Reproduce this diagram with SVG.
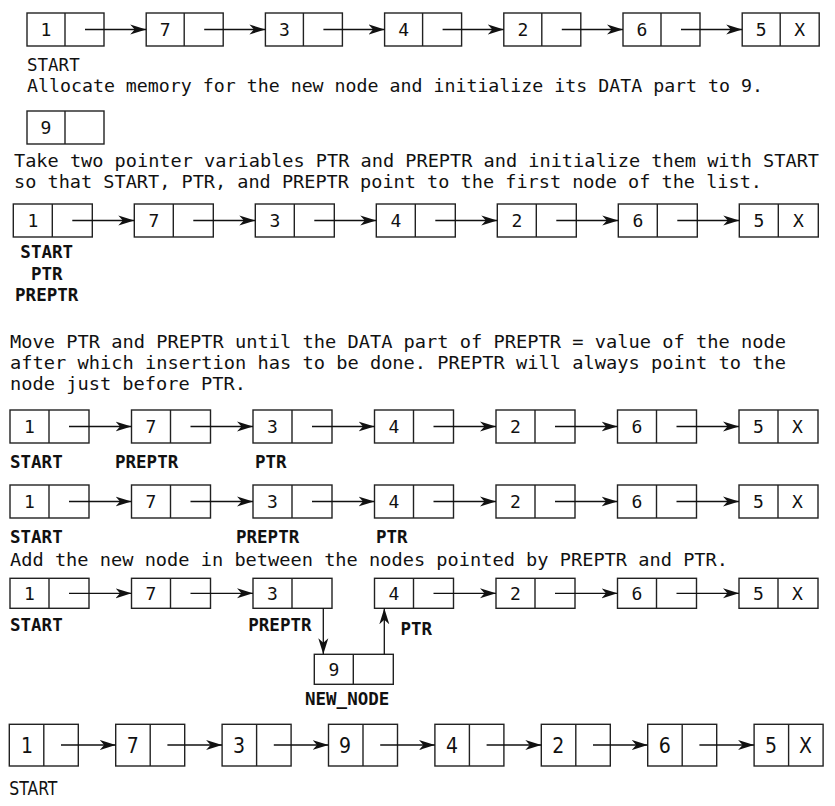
<svg xmlns="http://www.w3.org/2000/svg" width="835" height="806" viewBox="0 0 835 806">
<style>
rect{fill:#fff;stroke:#222;stroke-width:1.4}
.d{stroke:#222;stroke-width:1.4}
.a{stroke:#111;stroke-width:1.3;fill:none;marker-end:url(#ah)}
text{font-family:"DejaVu Sans Mono","Liberation Mono",monospace;fill:#111}
.n{font-size:18px;text-anchor:middle}
.p{font-size:17.5px}
.l{font-size:17.5px}
.b{font-size:17.5px;font-weight:bold}
.c{font-family:"DejaVu Sans Condensed","DejaVu Sans",sans-serif;font-size:21px;text-anchor:middle}
.cl{font-family:"DejaVu Sans Condensed","DejaVu Sans",sans-serif;font-size:20px}
</style>
<defs>
<marker id="ah" markerUnits="userSpaceOnUse" markerWidth="17" markerHeight="11" refX="16" refY="5.5" orient="auto">
<path d="M0,0.5 L16,5.5 L0,10.5 L4.5,5.5 Z" fill="#111"/>
</marker>
</defs>

<!-- Row 1 -->
<g id="r1n1"><rect x="27" y="13" width="77" height="33"/><line class="d" x1="65" y1="13" x2="65" y2="46"/><text class="n" x="46" y="36">1</text></g>
<g id="r1n2"><rect x="146.2" y="13" width="77" height="33"/><line class="d" x1="184.2" y1="13" x2="184.2" y2="46"/><text class="n" x="165.2" y="36">7</text></g>
<g id="r1n3"><rect x="265.4" y="13" width="77" height="33"/><line class="d" x1="303.4" y1="13" x2="303.4" y2="46"/><text class="n" x="284.4" y="36">3</text></g>
<g id="r1n4"><rect x="384.6" y="13" width="77" height="33"/><line class="d" x1="422.6" y1="13" x2="422.6" y2="46"/><text class="n" x="403.6" y="36">4</text></g>
<g id="r1n5"><rect x="503.8" y="13" width="77" height="33"/><line class="d" x1="541.8" y1="13" x2="541.8" y2="46"/><text class="n" x="522.8" y="36">2</text></g>
<g id="r1n6"><rect x="623" y="13" width="77" height="33"/><line class="d" x1="661" y1="13" x2="661" y2="46"/><text class="n" x="642" y="36">6</text></g>
<g id="r1n7"><rect x="742.2" y="13" width="77" height="33"/><line class="d" x1="780.2" y1="13" x2="780.2" y2="46"/><text class="n" x="761.2" y="36">5</text><text class="n" x="799.7" y="36">X</text></g>
<text class="l" x="27" y="71">START</text>
<text class="p" x="27" y="91.5" textLength="736" lengthAdjust="spacingAndGlyphs">Allocate memory for the new node and initialize its DATA part to 9.</text>

<g id="newnode1"><rect x="27" y="111" width="77" height="33"/><line class="d" x1="65" y1="111" x2="65" y2="144"/><text class="n" x="46" y="134">9</text></g>

<text class="p" x="14" y="166.5" textLength="805" lengthAdjust="spacingAndGlyphs">Take two pointer variables PTR and PREPTR and initialize them with START</text>
<text class="p" x="14" y="187.5" textLength="748" lengthAdjust="spacingAndGlyphs">so that START, PTR, and PREPTR point to the first node of the list.</text>

<!-- Row 3 -->
<g id="r3n1"><rect x="13.3" y="204" width="79" height="33"/><line class="d" x1="52.3" y1="204" x2="52.3" y2="237"/><text class="n" x="32.8" y="227">1</text></g>
<g id="r3n2"><rect x="134.3" y="204" width="79" height="33"/><line class="d" x1="173.3" y1="204" x2="173.3" y2="237"/><text class="n" x="153.8" y="227">7</text></g>
<g id="r3n3"><rect x="255.3" y="204" width="79" height="33"/><line class="d" x1="294.3" y1="204" x2="294.3" y2="237"/><text class="n" x="274.8" y="227">3</text></g>
<g id="r3n4"><rect x="376.3" y="204" width="79" height="33"/><line class="d" x1="415.3" y1="204" x2="415.3" y2="237"/><text class="n" x="395.8" y="227">4</text></g>
<g id="r3n5"><rect x="497.3" y="204" width="79" height="33"/><line class="d" x1="536.3" y1="204" x2="536.3" y2="237"/><text class="n" x="516.8" y="227">2</text></g>
<g id="r3n6"><rect x="618.3" y="204" width="79" height="33"/><line class="d" x1="657.3" y1="204" x2="657.3" y2="237"/><text class="n" x="637.8" y="227">6</text></g>
<g id="r3n7"><rect x="739.3" y="204" width="79" height="33"/><line class="d" x1="778.3" y1="204" x2="778.3" y2="237"/><text class="n" x="758.8" y="227">5</text><text class="n" x="798.3" y="227">X</text></g>
<text class="b" x="46.7" y="258" text-anchor="middle">START</text>
<text class="b" x="46.7" y="280" text-anchor="middle">PTR</text>
<text class="b" x="46.7" y="301" text-anchor="middle">PREPTR</text>

<text class="p" x="10" y="347.5" textLength="776" lengthAdjust="spacingAndGlyphs">Move PTR and PREPTR until the DATA part of PREPTR = value of the node</text>
<text class="p" x="10" y="369" textLength="776" lengthAdjust="spacingAndGlyphs">after which insertion has to be done. PREPTR will always point to the</text>
<text class="p" x="10" y="390" textLength="236" lengthAdjust="spacingAndGlyphs">node just before PTR.</text>

<!-- Row 4 -->
<g id="r4n1"><rect x="10" y="410" width="79" height="33"/><line class="d" x1="49" y1="410" x2="49" y2="443"/><text class="n" x="29.5" y="433">1</text></g>
<g id="r4n2"><rect x="131.5" y="410" width="79" height="33"/><line class="d" x1="170.5" y1="410" x2="170.5" y2="443"/><text class="n" x="151" y="433">7</text></g>
<g id="r4n3"><rect x="253" y="410" width="79" height="33"/><line class="d" x1="292" y1="410" x2="292" y2="443"/><text class="n" x="272.5" y="433">3</text></g>
<g id="r4n4"><rect x="374.5" y="410" width="79" height="33"/><line class="d" x1="413.5" y1="410" x2="413.5" y2="443"/><text class="n" x="394" y="433">4</text></g>
<g id="r4n5"><rect x="496" y="410" width="79" height="33"/><line class="d" x1="535" y1="410" x2="535" y2="443"/><text class="n" x="515.5" y="433">2</text></g>
<g id="r4n6"><rect x="617.5" y="410" width="79" height="33"/><line class="d" x1="656.5" y1="410" x2="656.5" y2="443"/><text class="n" x="637" y="433">6</text></g>
<g id="r4n7"><rect x="739" y="410" width="79" height="33"/><line class="d" x1="778" y1="410" x2="778" y2="443"/><text class="n" x="758.5" y="433">5</text><text class="n" x="797.5" y="433">X</text></g>
<text class="b" x="10" y="467.5">START</text>
<text class="b" x="115" y="467.5">PREPTR</text>
<text class="b" x="255" y="467.5">PTR</text>

<!-- Row 5 -->
<g id="r5n1"><rect x="10" y="485" width="79" height="33"/><line class="d" x1="49" y1="485" x2="49" y2="518"/><text class="n" x="29.5" y="508">1</text></g>
<g id="r5n2"><rect x="131.5" y="485" width="79" height="33"/><line class="d" x1="170.5" y1="485" x2="170.5" y2="518"/><text class="n" x="151" y="508">7</text></g>
<g id="r5n3"><rect x="253" y="485" width="79" height="33"/><line class="d" x1="292" y1="485" x2="292" y2="518"/><text class="n" x="272.5" y="508">3</text></g>
<g id="r5n4"><rect x="374.5" y="485" width="79" height="33"/><line class="d" x1="413.5" y1="485" x2="413.5" y2="518"/><text class="n" x="394" y="508">4</text></g>
<g id="r5n5"><rect x="496" y="485" width="79" height="33"/><line class="d" x1="535" y1="485" x2="535" y2="518"/><text class="n" x="515.5" y="508">2</text></g>
<g id="r5n6"><rect x="617.5" y="485" width="79" height="33"/><line class="d" x1="656.5" y1="485" x2="656.5" y2="518"/><text class="n" x="637" y="508">6</text></g>
<g id="r5n7"><rect x="739" y="485" width="79" height="33"/><line class="d" x1="778" y1="485" x2="778" y2="518"/><text class="n" x="758.5" y="508">5</text><text class="n" x="797.5" y="508">X</text></g>
<text class="b" x="10" y="542.5">START</text>
<text class="b" x="236" y="542.5">PREPTR</text>
<text class="b" x="376" y="542.5">PTR</text>

<text class="p" x="10" y="565.5" textLength="718" lengthAdjust="spacingAndGlyphs">Add the new node in between the nodes pointed by PREPTR and PTR.</text>

<!-- Row 6 -->
<g id="r6n1"><rect x="10" y="578.3" width="79" height="30"/><line class="d" x1="49" y1="578.3" x2="49" y2="608.3"/><text class="n" x="29.5" y="600">1</text></g>
<g id="r6n2"><rect x="131.5" y="578.3" width="79" height="30"/><line class="d" x1="170.5" y1="578.3" x2="170.5" y2="608.3"/><text class="n" x="151" y="600">7</text></g>
<g id="r6n3"><rect x="253" y="578.3" width="79" height="30"/><line class="d" x1="292" y1="578.3" x2="292" y2="608.3"/><text class="n" x="272.5" y="600">3</text></g>
<g id="r6n4"><rect x="374.5" y="578.3" width="79" height="30"/><line class="d" x1="413.5" y1="578.3" x2="413.5" y2="608.3"/><text class="n" x="394" y="600">4</text></g>
<g id="r6n5"><rect x="496" y="578.3" width="79" height="30"/><line class="d" x1="535" y1="578.3" x2="535" y2="608.3"/><text class="n" x="515.5" y="600">2</text></g>
<g id="r6n6"><rect x="617.5" y="578.3" width="79" height="30"/><line class="d" x1="656.5" y1="578.3" x2="656.5" y2="608.3"/><text class="n" x="637" y="600">6</text></g>
<g id="r6n7"><rect x="739" y="578.3" width="79" height="30"/><line class="d" x1="778" y1="578.3" x2="778" y2="608.3"/><text class="n" x="758.5" y="600">5</text><text class="n" x="797.5" y="600">X</text></g>
<g id="r6new"><rect x="314.3" y="654.3" width="79" height="30"/><line class="d" x1="353.3" y1="654.3" x2="353.3" y2="684.3"/><text class="n" x="333.8" y="676">9</text></g>
<text class="b" x="10" y="631">START</text>
<text class="b" x="248.3" y="631">PREPTR</text>
<text class="b" x="400.5" y="635">PTR</text>
<text class="b" x="305" y="705">NEW_NODE</text>

<!-- Row 7 -->
<g id="r7n1"><rect x="9.3" y="724.3" width="69" height="41.7"/><line class="d" x1="43.8" y1="724.3" x2="43.8" y2="766"/><text class="c" x="27" y="752.5">1</text></g>
<g id="r7n2"><rect x="115.7" y="724.3" width="69" height="41.7"/><line class="d" x1="150.2" y1="724.3" x2="150.2" y2="766"/><text class="c" x="132.7" y="752.5">7</text></g>
<g id="r7n3"><rect x="222.1" y="724.3" width="69" height="41.7"/><line class="d" x1="256.6" y1="724.3" x2="256.6" y2="766"/><text class="c" x="239.1" y="752.5">3</text></g>
<g id="r7n4"><rect x="328.5" y="724.3" width="69" height="41.7"/><line class="d" x1="363" y1="724.3" x2="363" y2="766"/><text class="c" x="345" y="752.5">9</text></g>
<g id="r7n5"><rect x="434.9" y="724.3" width="69" height="41.7"/><line class="d" x1="469.4" y1="724.3" x2="469.4" y2="766"/><text class="c" x="451.9" y="752.5">4</text></g>
<g id="r7n6"><rect x="541.3" y="724.3" width="69" height="41.7"/><line class="d" x1="575.8" y1="724.3" x2="575.8" y2="766"/><text class="c" x="558.3" y="752.5">2</text></g>
<g id="r7n7"><rect x="647.7" y="724.3" width="69" height="41.7"/><line class="d" x1="682.2" y1="724.3" x2="682.2" y2="766"/><text class="c" x="664.7" y="752.5">6</text></g>
<g id="r7n8"><rect x="754.1" y="724.3" width="69" height="41.7"/><line class="d" x1="788.6" y1="724.3" x2="788.6" y2="766"/><text class="c" x="771.1" y="752.5">5</text><text class="c" x="805.6" y="752.5">X</text></g>
<text class="cl" x="9.3" y="795" textLength="48" lengthAdjust="spacingAndGlyphs">START</text>

<!-- Connectors -->
<g id="connectors">
<line class="a" x1="85" y1="29.5" x2="146.2" y2="29.5"/>
<line class="a" x1="204.2" y1="29.5" x2="265.4" y2="29.5"/>
<line class="a" x1="323.4" y1="29.5" x2="384.6" y2="29.5"/>
<line class="a" x1="442.6" y1="29.5" x2="503.8" y2="29.5"/>
<line class="a" x1="561.8" y1="29.5" x2="623" y2="29.5"/>
<line class="a" x1="681" y1="29.5" x2="742.2" y2="29.5"/>

<line class="a" x1="72.3" y1="220.5" x2="134.3" y2="220.5"/>
<line class="a" x1="193.3" y1="220.5" x2="255.3" y2="220.5"/>
<line class="a" x1="314.3" y1="220.5" x2="376.3" y2="220.5"/>
<line class="a" x1="435.3" y1="220.5" x2="497.3" y2="220.5"/>
<line class="a" x1="556.3" y1="220.5" x2="618.3" y2="220.5"/>
<line class="a" x1="677.3" y1="220.5" x2="739.3" y2="220.5"/>

<line class="a" x1="69" y1="426.5" x2="131.5" y2="426.5"/>
<line class="a" x1="190.5" y1="426.5" x2="253" y2="426.5"/>
<line class="a" x1="312" y1="426.5" x2="374.5" y2="426.5"/>
<line class="a" x1="433.5" y1="426.5" x2="496" y2="426.5"/>
<line class="a" x1="555" y1="426.5" x2="617.5" y2="426.5"/>
<line class="a" x1="676.5" y1="426.5" x2="739" y2="426.5"/>

<line class="a" x1="69" y1="501.5" x2="131.5" y2="501.5"/>
<line class="a" x1="190.5" y1="501.5" x2="253" y2="501.5"/>
<line class="a" x1="312" y1="501.5" x2="374.5" y2="501.5"/>
<line class="a" x1="433.5" y1="501.5" x2="496" y2="501.5"/>
<line class="a" x1="555" y1="501.5" x2="617.5" y2="501.5"/>
<line class="a" x1="676.5" y1="501.5" x2="739" y2="501.5"/>

<line class="a" x1="69" y1="593.3" x2="131.5" y2="593.3"/>
<line class="a" x1="190.5" y1="593.3" x2="253" y2="593.3"/>
<line class="a" x1="433.5" y1="593.3" x2="496" y2="593.3"/>
<line class="a" x1="555" y1="593.3" x2="617.5" y2="593.3"/>
<line class="a" x1="676.5" y1="593.3" x2="739" y2="593.3"/>
<line class="a" x1="323.3" y1="608.3" x2="323.3" y2="654.3"/>
<line class="a" x1="384.3" y1="654.3" x2="384.3" y2="608.3"/>

<line class="a" x1="61" y1="745" x2="115.7" y2="745"/>
<line class="a" x1="167.4" y1="745" x2="222.1" y2="745"/>
<line class="a" x1="273.8" y1="745" x2="328.5" y2="745"/>
<line class="a" x1="380.2" y1="745" x2="434.9" y2="745"/>
<line class="a" x1="486.6" y1="745" x2="541.3" y2="745"/>
<line class="a" x1="593" y1="745" x2="647.7" y2="745"/>
<line class="a" x1="699.4" y1="745" x2="754.1" y2="745"/>
</g>
</svg>
